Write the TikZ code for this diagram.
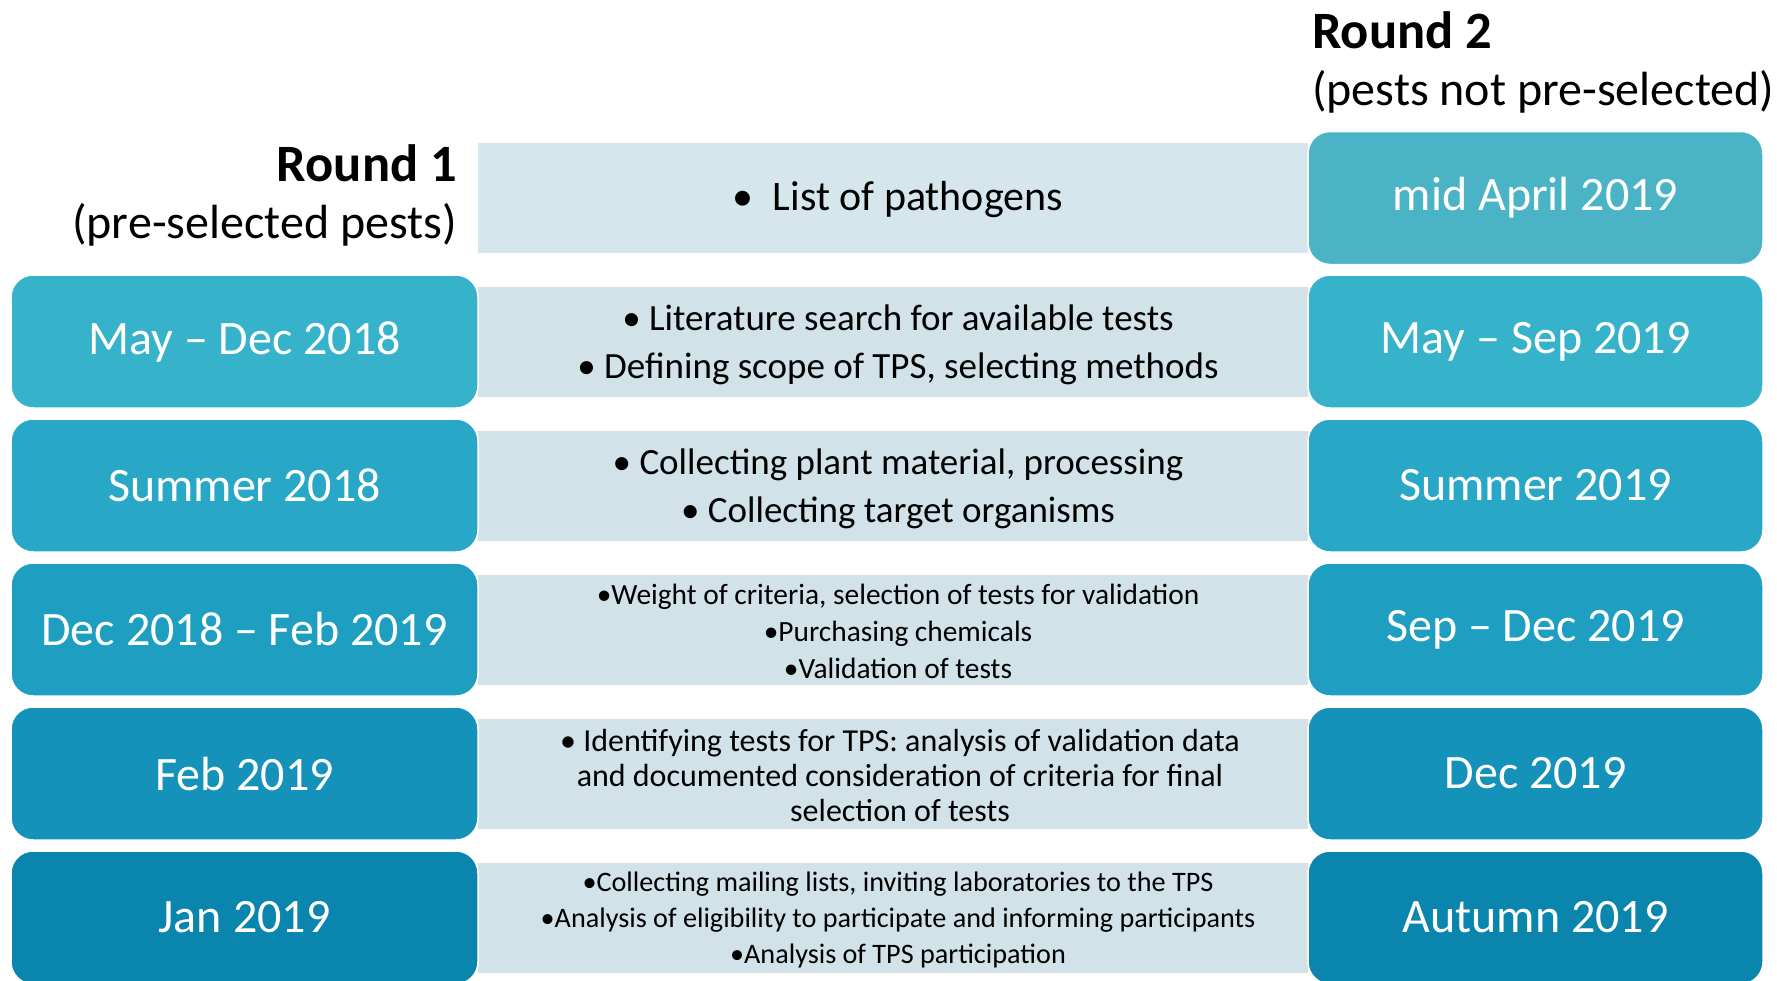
\documentclass[tikz,border=0pt]{standalone}
\usepackage{fontspec}
\setmainfont{Carlito}
\definecolor{cR0}{HTML}{4AB4C6}
\definecolor{cR1}{HTML}{36B3CA}
\definecolor{cR2}{HTML}{28A8C6}
\definecolor{cR3}{HTML}{1E9EC1}
\definecolor{cR4}{HTML}{1592BA}
\definecolor{cR5}{HTML}{0A85AE}
\definecolor{bandA}{HTML}{D5E7EC}
\definecolor{bandB}{HTML}{D2E2E9}
\begin{document}
\begin{tikzpicture}[x=1pt,y=-1pt,
  datebox/.style={rounded corners=22pt, draw=white, line width=1.5pt, text=white,
    font=\fontsize{48}{58}\selectfont, inner sep=0pt, minimum height=133pt},
  leftbox/.style={datebox, minimum width=467pt},
  rightbox/.style={datebox, minimum width=455pt},
  band/.style={fill=bandB, inner sep=0pt, minimum width=830pt, minimum height=110pt},
  bandtext/.style={align=center, text=black, inner sep=0pt},
  bigtxt/.style={font=\fontsize{42}{50}\selectfont},
  midtxt/.style={font=\fontsize{37}{48}\selectfont},
  smalltxt/.style={font=\fontsize{29.4}{37}\selectfont},
  medtxt/.style={font=\fontsize{32}{35}\selectfont},
  tinytxt/.style={font=\fontsize{28.2}{36}\selectfont},
  headb/.style={font=\fontsize{52.5}{60}\selectfont\bfseries, inner sep=0pt},
  headn/.style={font=\fontsize{48}{58}\selectfont, inner sep=0pt}
]
\useasboundingbox (0,0) rectangle (1777,980);
% bands
\node[band, fill=bandA] (b0) at (893,198) {};
\node[band] (b1) at (893,341.5) {};
\node[band] (b2) at (893,485.5) {};
\node[band] (b3) at (893,629.5) {};
\node[band] (b4) at (893,773.5) {};
\node[band] (b5) at (893,917.5) {};
\node[bandtext, bigtxt] (t0) at ([xshift=5pt,yshift=-2pt]b0.center) {•\ \ List of pathogens};
\node[bandtext, midtxt] (t1) at ([xshift=5pt,yshift=-3pt]b1.center) {• Literature search for available tests\\• Defining scope of TPS, selecting methods};
\node[bandtext, midtxt] (t2) at ([xshift=5pt,yshift=-3pt]b2.center) {• Collecting plant material, processing\\• Collecting target organisms};
\node[bandtext, smalltxt] (t3) at ([xshift=5pt,yshift=-2pt]b3.center) {•Weight of criteria, selection of tests for validation\\•Purchasing chemicals\\•Validation of tests};
\node[bandtext, medtxt] (t4) at ([xshift=7pt,yshift=-2pt]b4.center) {• Identifying tests for TPS: analysis of validation data\\and documented consideration of criteria for final\\selection of tests};
\node[bandtext, tinytxt] (t5) at ([xshift=5pt,yshift=-2pt]b5.center) {•Collecting mailing lists, inviting laboratories to the TPS\\•Analysis of eligibility to participate and informing participants\\•Analysis of TPS participation};
% left boxes
\node[leftbox, fill=cR1] (l1) at (244.5,341.5) {May – Dec 2018};
\node[leftbox, fill=cR2] (l2) at (244.5,485.5) {Summer 2018};
\node[leftbox, fill=cR3] (l3) at (244.5,629.5) {Dec 2018 – Feb 2019};
\node[leftbox, fill=cR4] (l4) at (244.5,773.5) {Feb 2019};
\node[leftbox, fill=cR5] (l5) at (244.5,917.5) {Jan 2019};
% right boxes
\node[rightbox, fill=cR0] (r0) at (1535.5,198) {mid April 2019};
\node[rightbox, fill=cR1] (r1) at (1535.5,341.5) {May – Sep 2019};
\node[rightbox, fill=cR2] (r2) at (1535.5,485.5) {Summer 2019};
\node[rightbox, fill=cR3] (r3) at (1535.5,629.5) {Sep – Dec 2019};
\node[rightbox, fill=cR4] (r4) at (1535.5,773.5) {Dec 2019};
\node[rightbox, fill=cR5] (r5) at (1535.5,917.5) {Autumn 2019};
% headings
\node[headb, anchor=base east] (h1) at (457,181) {Round 1};
\node[headn, anchor=base east] (h1s) at (457,238) {(pre-selected pests)};
\node[headb, anchor=base west] (h2) at (1312,48) {Round 2};
\node[headn, anchor=base west] (h2s) at (1312,105) {(pests not pre-selected)};
\end{tikzpicture}
\end{document}
